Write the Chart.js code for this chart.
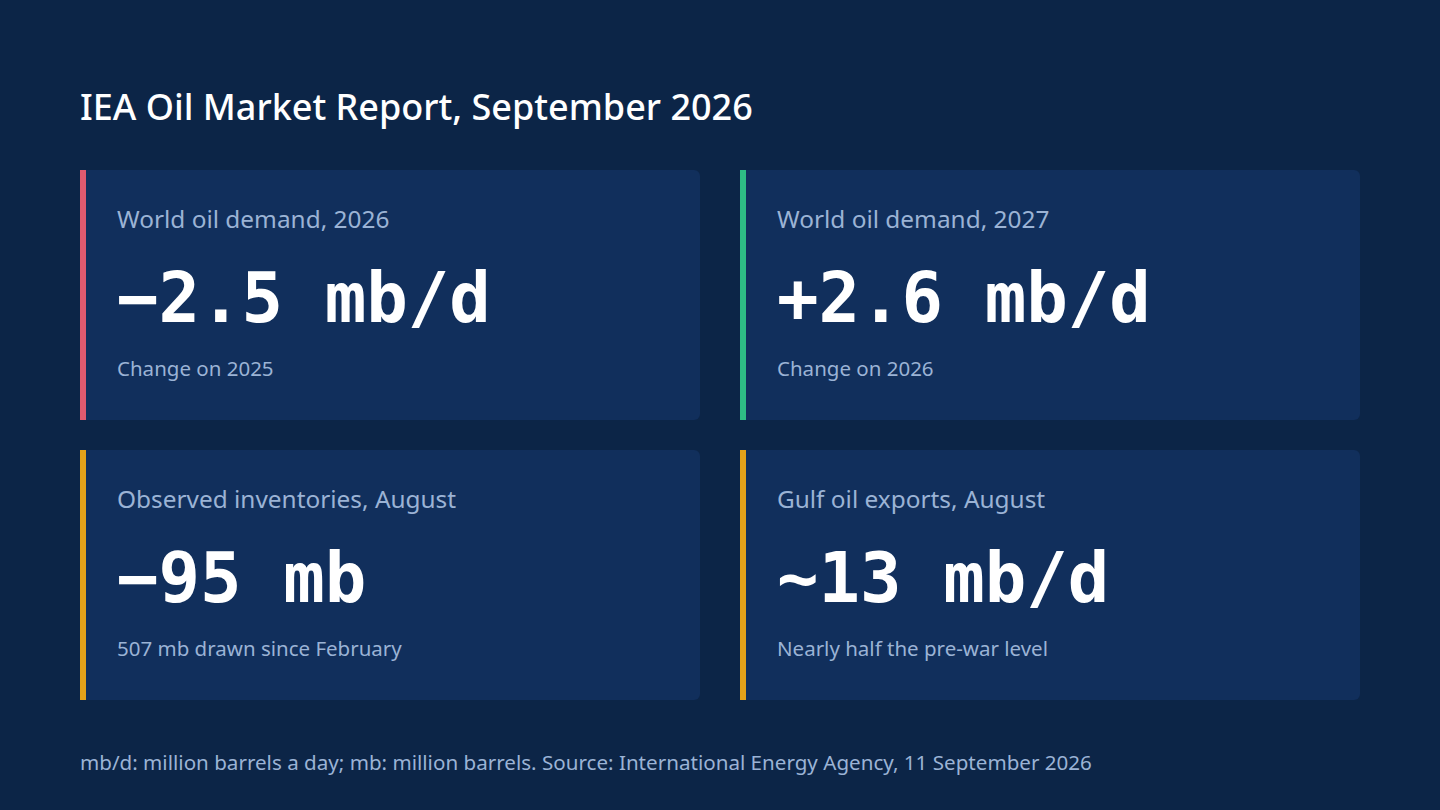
<!DOCTYPE html>
<html>
<head>
<meta charset="utf-8">
<script src="https://cdn.jsdelivr.net/npm/chart.js@4.4.1/dist/chart.umd.min.js"></script>
<style>
  html, body { margin:0; padding:0; }
  body { width:1440px; height:810px; background:#0c2547; position:relative; overflow:hidden;
         font-family:"Noto Sans","Open Sans",sans-serif; }
  #title { position:absolute; left:80px; top:83px; margin:0; color:#ffffff; font-size:36px; font-weight:500; line-height:48px; white-space:nowrap; }
  .card { position:absolute; width:614px; height:250px; background:#112f5c; border-left:6px solid #e05a6f;
          border-radius:0 6px 6px 0; box-sizing:content-box; }
  .lbl { position:absolute; left:31px; top:33px; color:#9bb3d5; font-size:24.4px; line-height:32px; white-space:nowrap; }
  .val { position:absolute; left:31px; top:88px; color:#ffffff; font-family:"DejaVu Sans Mono",monospace; font-weight:bold; font-size:69px; line-height:80px; white-space:nowrap; }
  .note { position:absolute; left:31px; top:184px; color:#9bb3d5; font-size:20.5px; line-height:28px; white-space:nowrap; }
  #foot { position:absolute; left:80px; top:748px; color:#9bb3d5; font-size:20.6px; line-height:28px; white-space:nowrap; }
  #hidden { position:absolute; left:0; top:0; width:1px; height:1px; opacity:0; }
</style>
</head>
<body>
<h1 id="title"></h1>
<div id="cards"></div>
<div id="foot"></div>
<div id="hidden"><canvas id="c"></canvas></div>
<script>
const titleText = "IEA Oil Market Report, September 2026";
const cardLabels = ["World oil demand, 2026", "World oil demand, 2027", "Observed inventories, August", "Gulf oil exports, August"];
const cardValues = ["\u22122.5 mb/d", "+2.6 mb/d", "\u221295 mb", "~13 mb/d"];
const cardNotes = ["Change on 2025", "Change on 2026", "507 mb drawn since February", "Nearly half the pre-war level"];
const cardAccents = ["#e05a6f", "#2ebd85", "#e3a21a", "#e3a21a"];
const footText = "mb/d: million barrels a day; mb: million barrels. Source: International Energy Agency, 11 September 2026";

document.getElementById('title').textContent = titleText;
document.getElementById('foot').textContent = footText;
const pos = [[80,170],[740,170],[80,450],[740,450]];
const wrap = document.getElementById('cards');
cardLabels.forEach((l,i)=>{
  const d = document.createElement('div');
  d.className = 'card';
  d.style.left = pos[i][0]+'px'; d.style.top = pos[i][1]+'px';
  d.style.borderLeftColor = cardAccents[i];
  const a = document.createElement('div'); a.className='lbl'; a.textContent = l;
  const b = document.createElement('div'); b.className='val'; b.textContent = cardValues[i];
  const c = document.createElement('div'); c.className='note'; c.textContent = cardNotes[i];
  d.appendChild(a); d.appendChild(b); d.appendChild(c);
  wrap.appendChild(d);
});
new Chart(document.getElementById('c'), {type:'bar', data:{labels:[], datasets:[]}, options:{animation:false, responsive:false, plugins:{legend:{display:false}}}});
</script>
</body>
</html>
